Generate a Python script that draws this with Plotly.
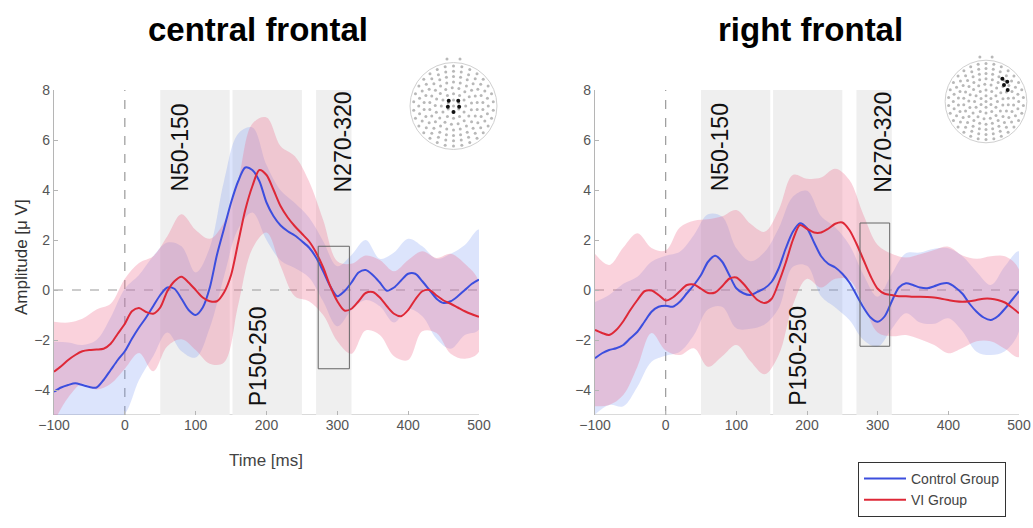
import math
import plotly.graph_objects as go

# ---------------- data ----------------
time_ms = list(range(-100, 501, 10))
band_ms = list(range(-100, 501, 20))

# central frontal (mean amplitude, µV, every 10 ms)
cf_control = [-4.07, -3.9, -3.8, -3.73, -3.8, -3.88, -3.9, -3.6, -3.2, -2.8,
              -2.45, -1.95, -1.5, -1.1, -0.65, -0.2, 0.1, 0.05, -0.35, -0.8,
              -1.0, -0.7, 0.1, 1.4, 2.45, 3.5, 4.35, 4.9, 4.8, 4.35,
              3.5, 2.95, 2.58, 2.35, 2.18, 1.95, 1.7, 1.3, 0.75, 0.15,
              -0.25, -0.05, 0.3, 0.7, 0.8, 0.6, 0.3, -0.03, 0.1, 0.38,
              0.65, 0.65, 0.35, 0.0, -0.35, -0.52, -0.45, -0.25, 0.0, 0.25, 0.42]
cf_vi = [-3.27, -3.05, -2.8, -2.6, -2.45, -2.4, -2.38, -2.35, -2.15, -1.75,
         -1.35, -0.85, -0.72, -0.88, -0.95, -0.7, -0.05, 0.35, 0.53, 0.3,
         0.0, -0.3, -0.45, -0.45, -0.1, 0.6, 1.9, 3.2, 4.15, 4.8,
         4.6, 4.0, 3.35, 2.9, 2.55, 2.25, 1.95, 1.5, 0.9, 0.15,
         -0.45, -0.82, -0.75, -0.45, -0.12, -0.08, -0.3, -0.65, -0.95, -1.05,
         -0.8, -0.38, -0.05, 0.0, -0.22, -0.42, -0.55, -0.7, -0.85, -0.97, -1.07]
# half-width of shaded error band, every 20 ms
cf_control_err = [2.0, 1.7, 1.6, 1.9, 2.1, 2.5, 2.1, 2.0, 1.8, 2.1,
                  1.7, 1.6, 1.9, 1.9, 1.7, 1.5, 1.4, 1.3, 1.2, 1.2,
                  1.2, 1.1, 1.2, 0.95, 1.4, 1.4, 1.4, 1.6, 1.9, 1.8, 2.0]
cf_vi_err = [2.0, 1.5, 1.3, 1.6, 1.6, 1.8, 1.8, 2.3, 2.2, 2.5,
             2.4, 2.5, 2.8, 2.5, 2.5, 2.3, 2.4, 2.8, 2.4, 1.9,
             1.6, 1.8, 1.5, 1.5, 1.7, 2.0, 1.6, 1.5, 2.0, 1.9, 1.4]

# right frontal
rf_control = [-2.73, -2.53, -2.4, -2.33, -2.2, -1.93, -1.67, -1.27, -0.87, -0.67,
              -0.63, -0.67, -0.47, -0.13, 0.2, 0.6, 1.13, 1.37, 1.13, 0.6,
              0.07, -0.13, -0.2, -0.07, 0.07, 0.33, 0.87, 1.67, 2.33, 2.67,
              2.47, 1.9, 1.35, 1.05, 0.9, 0.65, 0.3, -0.2, -0.7, -1.1,
              -1.27, -1.05, -0.45, 0.1, 0.27, 0.2, 0.1, 0.07, 0.15, 0.25,
              0.27, 0.1, -0.15, -0.55, -0.87, -1.1, -1.2, -1.05, -0.75, -0.4, -0.05]
rf_vi = [-1.6, -1.72, -1.8, -1.6, -1.25, -0.8, -0.4, -0.05, -0.02, -0.2,
         -0.42, -0.3, -0.05, 0.2, 0.22, 0.05, -0.12, -0.1, 0.15, 0.45,
         0.5, 0.25, -0.1, -0.4, -0.52, -0.35, 0.3, 1.1, 2.0, 2.6,
         2.45, 2.3, 2.3, 2.45, 2.65, 2.7, 2.4, 1.85, 1.2, 0.55,
         0.05, -0.15, -0.2, -0.25, -0.25, -0.27, -0.27, -0.28, -0.3, -0.35,
         -0.4, -0.45, -0.47, -0.45, -0.4, -0.35, -0.35, -0.4, -0.5, -0.7, -0.93]
rf_control_err = [2.25, 2.2, 2.45, 2.2, 2.0, 2.0, 2.0, 2.0, 1.9, 1.8,
                  1.6, 1.35, 1.45, 1.6, 1.4, 1.5, 1.6, 1.6, 1.5, 1.3,
                  1.0, 1.1, 1.2, 1.4, 1.5, 1.4, 1.5, 1.6, 1.4, 1.7, 1.6]
rf_vi_err = [3.05, 2.8, 2.95, 2.67, 1.7, 2.0, 2.55, 2.55, 2.95, 2.8,
             2.7, 2.75, 2.85, 2.9, 2.6, 2.0, 2.2, 2.2, 2.0, 1.8,
             1.75, 1.65, 1.55, 1.7, 1.9, 2.13, 1.85, 1.65, 1.7, 1.85, 1.75]

window_starts = [50, 152, 270]
window_ends = [148, 250, 320]
window_labels = ["N50-150", "P150-250", "N270-320"]
label_x = [78, 188, 308]
label_y = [5.7, -2.65, 5.9]

box_left = {"x0": 273, "x1": 317, "y0": -3.15, "y1": 1.75}
box_right = {"x0": 275, "x1": 317, "y0": -2.25, "y1": 2.68}

panel_titles = ["central frontal", "right frontal"]
group_names = ["Control Group", "VI Group"]
x_ticks = [-100, 0, 100, 200, 300, 400, 500]
y_ticks = [-4, -2, 0, 2, 4, 6, 8]

# electrode layout for the head insets (ring radius, electrode count)
ring_radius = [0.0, 0.14, 0.28, 0.42, 0.55, 0.68, 0.8, 0.92]
ring_count = [1, 6, 12, 17, 22, 26, 28, 30]
sel_left_x = [-0.11, 0.11, -0.13, 0.13, 0.0]
sel_left_y = [0.12, 0.12, -0.02, -0.02, -0.14]
sel_right_x = [0.4, 0.52, 0.44, 0.53]
sel_right_y = [0.55, 0.48, 0.4, 0.28]

BLUE = "rgb(60,78,222)"
RED = "rgb(222,40,55)"
BLUE_FILL = "rgba(115,147,243,0.25)"
RED_FILL = "rgba(238,105,138,0.3)"
FONT = "Liberation Sans, Arial, Helvetica, sans-serif"

# page geometry (body margin removed by post_script, so figure px == page px)
W, H, OFF = 1033, 528, 0


def px(x):
    return (x - OFF) / W


def py(y):
    return 1 - (y - OFF) / H


fig = go.Figure()

panels = [
    ("x", "y", cf_control, cf_vi, cf_control_err, cf_vi_err, box_left),
    ("x2", "y2", rf_control, rf_vi, rf_control_err, rf_vi_err, box_right),
]

shapes = []
annotations = []

for pi, (xa, ya, ctl, vi, ctl_err, vi_err, box) in enumerate(panels):
    for mean, err, fillc in [(ctl, ctl_err, BLUE_FILL), (vi, vi_err, RED_FILL)]:
        m20 = mean[::2]
        upper = [m + e for m, e in zip(m20, err)]
        lower = [m - e for m, e in zip(m20, err)]
        fig.add_trace(go.Scatter(
            x=band_ms + band_ms[::-1], y=upper + lower[::-1],
            fill="toself", fillcolor=fillc, line=dict(width=0, shape="spline"),
            mode="lines", hoverinfo="skip", showlegend=False, xaxis=xa, yaxis=ya))
    for mean, col, name in [(ctl, BLUE, group_names[0]), (vi, RED, group_names[1])]:
        fig.add_trace(go.Scatter(
            x=time_ms, y=mean, mode="lines", name=name,
            line=dict(color=col, width=2, shape="spline", smoothing=0.8),
            showlegend=(pi == 0), xaxis=xa, yaxis=ya))

    # bottom axis line (drawn first, partly covered by the grey windows)
    shapes.append(dict(type="line", xref=xa, yref=ya, x0=-100, x1=500, y0=-5, y1=-5,
                       line=dict(color="#b5b5b5", width=1.2), layer="below"))
    for s, e in zip(window_starts, window_ends):
        shapes.append(dict(type="rect", xref=xa, yref=ya, x0=s, x1=e, y0=-5.1, y1=8,
                           fillcolor="#efefef", line=dict(width=0), layer="below"))
    shapes.append(dict(type="line", xref=xa, yref=ya, x0=-100, x1=500, y0=0, y1=0,
                       line=dict(color="#9a9a9a", width=1.2, dash="dash"), layer="below"))
    shapes.append(dict(type="line", xref=xa, yref=ya, x0=0, x1=0, y0=-5, y1=8,
                       line=dict(color="#9a9a9a", width=1.2, dash="dash"), layer="below"))
    shapes.append(dict(type="rect", xref=xa, yref=ya, line=dict(color="#666", width=1),
                       fillcolor="rgba(0,0,0,0)", layer="above", **box))
    for lx, ly, lab in zip(label_x, label_y, window_labels):
        annotations.append(dict(x=lx, y=ly, xref=xa, yref=ya, text=lab, textangle=-90,
                                showarrow=False, font=dict(size=23, color="#111", family=FONT)))

# head insets
for hi, (xa, ya, sx, sy) in enumerate([("x3", "y3", sel_left_x, sel_left_y),
                                        ("x4", "y4", sel_right_x, sel_right_y)]):
    ex, ey = [], []
    for r, n in zip(ring_radius, ring_count):
        for k in range(n):
            a = 2 * math.pi * k / n + (0.3 if n % 2 else 0.0)
            ex.append(r * math.sin(a))
            ey.append(r * math.cos(a))
    ex += [-0.15, 0.15]
    ey += [1.08, 1.08]
    fig.add_trace(go.Scatter(x=ex, y=ey, mode="markers", hoverinfo="skip", showlegend=False,
                             marker=dict(size=3, color="#b8b8b8"), xaxis=xa, yaxis=ya))
    fig.add_trace(go.Scatter(x=sx, y=sy, mode="markers", hoverinfo="skip", showlegend=False,
                             marker=dict(size=4, color="#111"), xaxis=xa, yaxis=ya))
    shapes.append(dict(type="circle", xref=xa, yref=ya, x0=-1, x1=1, y0=-1, y1=1,
                       line=dict(color="#d0d0d0", width=1)))

# titles and axis titles
annotations.append(dict(x=px(258), y=py(30), xref="paper", yref="paper",
                        text="<b>" + panel_titles[0] + "</b>", xanchor="center", yanchor="middle",
                        showarrow=False, font=dict(size=33, color="#000", family=FONT)))
annotations.append(dict(x=px(810), y=py(30), xref="paper", yref="paper",
                        text="<b>" + panel_titles[1] + "</b>", xanchor="center", yanchor="middle",
                        showarrow=False, font=dict(size=33, color="#000", family=FONT)))
annotations.append(dict(x=px(21), y=py(257), xref="paper", yref="paper", text="Amplitude [μ V]",
                        textangle=-90, xanchor="center", yanchor="middle",
                        showarrow=False, font=dict(size=17, color="#333", family=FONT)))
annotations.append(dict(x=px(266), y=py(460), xref="paper", yref="paper", text="Time [ms]",
                        xanchor="center", yanchor="middle",
                        showarrow=False, font=dict(size=17, color="#444", family=FONT)))

ax_common = dict(range=[-100, 500], tickvals=x_ticks, ticks="inside", ticklen=4,
                 tickcolor="#b5b5b5", showgrid=False, zeroline=False, showline=False,
                 automargin=False,
                 tickfont=dict(size=14, color="#555", family=FONT))
ay_common = dict(range=[-5, 8], tickvals=y_ticks, ticks="inside", ticklen=4,
                 tickcolor="#b5b5b5", showgrid=False, zeroline=False, showline=True,
                 linecolor="#b5b5b5", linewidth=1.2, automargin=False,
                 tickfont=dict(size=14, color="#555", family=FONT))
head_ax = dict(range=[-1.15, 1.15], visible=False, fixedrange=True, automargin=False)

fig.update_layout(
    width=W, height=H,
    margin=dict(l=0, r=0, t=0, b=0, pad=0, autoexpand=False),
    paper_bgcolor="white", plot_bgcolor="rgba(0,0,0,0)",
    xaxis=dict(domain=[px(54), px(479)], anchor="y", **ax_common),
    yaxis=dict(domain=[py(415), py(90)], anchor="x", **ay_common),
    xaxis2=dict(domain=[px(595), px(1019)], anchor="y2", **ax_common),
    yaxis2=dict(domain=[py(415), py(90)], anchor="x2", **ay_common),
    xaxis3=dict(domain=[px(403.5), px(503.5)], anchor="y3", **head_ax),
    yaxis3=dict(domain=[py(156), py(56)], anchor="x3", **head_ax),
    xaxis4=dict(domain=[px(939), px(1033)], anchor="y4", **head_ax),
    yaxis4=dict(domain=[py(149), py(54)], anchor="x4", **head_ax),
    shapes=shapes, annotations=annotations,
    showlegend=True,
    legend=dict(x=px(858), y=py(462), xanchor="left", yanchor="top",
                bordercolor="#333", borderwidth=1, bgcolor="white",
                font=dict(size=14, color="#444", family=FONT),
                itemwidth=42, entrywidth=170, tracegroupgap=2),
    font=dict(family=FONT),
)

fig.write_html("out.html",
               config={"displayModeBar": False},
               post_script="document.body.style.margin='0px';document.body.style.overflow='hidden';")
